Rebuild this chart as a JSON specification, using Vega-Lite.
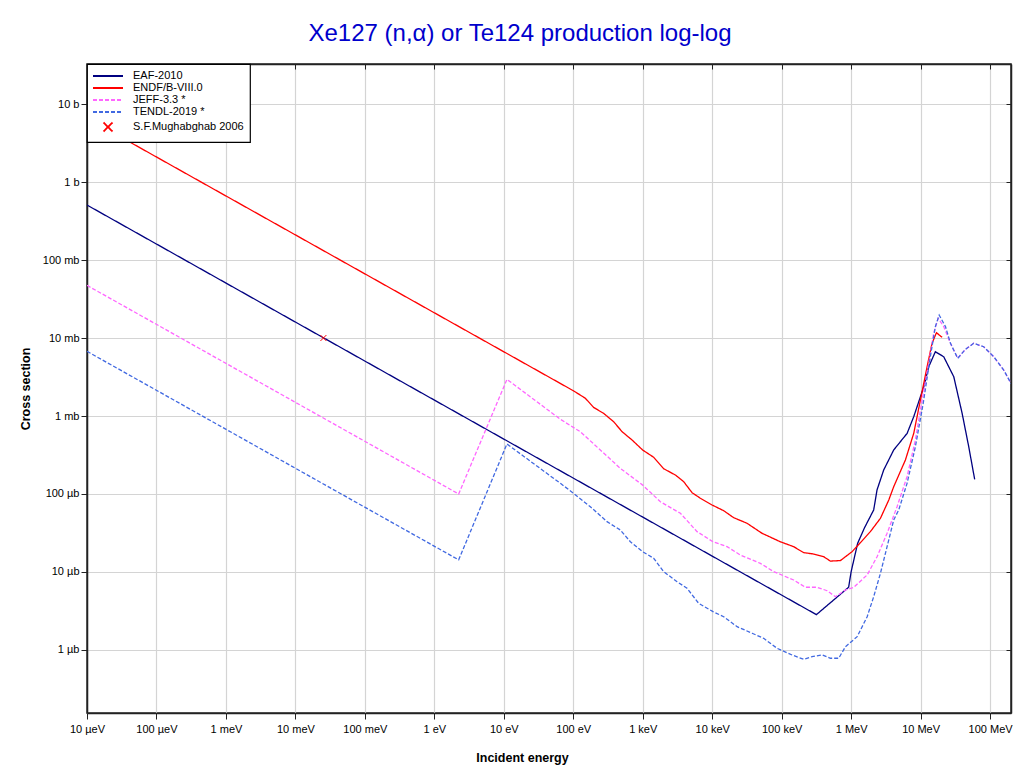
{
  "$schema": "https://vega.github.io/schema/vega-lite/v6.json",
  "width": 924,
  "height": 649,
  "autosize": {"type": "none"},
  "padding": {"left": 87, "top": 64, "right": 13, "bottom": 61},
  "background": "white",
  "title": {"text": "Xe127 (n,α) or Te124 production log-log", "color": "#0000cc", "fontSize": 24, "font": "Liberation Sans", "fontWeight": "normal", "anchor": "middle", "frame": "group", "dx": -29, "offset": 17},
  "config": {
    "font": "Liberation Sans",
    "view": {"stroke": "#222", "strokeWidth": 1.5},
    "axis": {"labelFontSize": 11, "labelColor": "#000", "labelFont": "Liberation Sans", "titleFont": "Liberation Sans", "titleFontSize": 12.5, "titleFontWeight": "bold", "titleColor": "#000", "domainColor": "#222", "domainWidth": 1.5, "tickColor": "#222", "tickSize": 6, "gridColor": "#d4d4d4", "gridWidth": 1.2},
    "legend": {"orient": "top-left", "offset": 0, "padding": 6, "strokeColor": "#000", "strokeWidth": 1.2, "fillColor": "white", "labelFontSize": 11, "labelFont": "Liberation Sans", "labelColor": "#000", "symbolSize": 100, "symbolOffset": 9, "symbolStrokeWidth": 1.8, "rowPadding": 1, "labelOffset": 19, "titleFontSize": 0}
  },
  "data": {"values": [
    {"s": "EAF-2010", "e": 1e-5, "v": 0.507},
    {"s": "EAF-2010", "e": 3.16e5, "v": 2.84e-6},
    {"s": "EAF-2010", "e": 9.2e5, "v": 6.37e-6},
    {"s": "EAF-2010", "e": 1.0e6, "v": 1.01e-5},
    {"s": "EAF-2010", "e": 1.24e6, "v": 2.33e-5},
    {"s": "EAF-2010", "e": 1.55e6, "v": 3.66e-5},
    {"s": "EAF-2010", "e": 2.11e6, "v": 6.24e-5},
    {"s": "EAF-2010", "e": 2.36e6, "v": 1.13e-4},
    {"s": "EAF-2010", "e": 2.94e6, "v": 2.03e-4},
    {"s": "EAF-2010", "e": 4.1e6, "v": 3.67e-4},
    {"s": "EAF-2010", "e": 6.4e6, "v": 6.0e-4},
    {"s": "EAF-2010", "e": 7.96e6, "v": 9.8e-4},
    {"s": "EAF-2010", "e": 1.11e7, "v": 2.37e-3},
    {"s": "EAF-2010", "e": 1.31e7, "v": 4.29e-3},
    {"s": "EAF-2010", "e": 1.63e7, "v": 6.67e-3},
    {"s": "EAF-2010", "e": 2.15e7, "v": 5.75e-3},
    {"s": "EAF-2010", "e": 3.0e7, "v": 3.19e-3},
    {"s": "EAF-2010", "e": 3.96e7, "v": 1.08e-3},
    {"s": "EAF-2010", "e": 4.93e7, "v": 4.03e-4},
    {"s": "EAF-2010", "e": 6.0e7, "v": 1.54e-4},

    {"s": "ENDF/B-VIII.0", "e": 1e-5, "v": 6.61},
    {"s": "ENDF/B-VIII.0", "e": 101, "v": 2.1e-3},
    {"s": "ENDF/B-VIII.0", "e": 149, "v": 1.69e-3},
    {"s": "ENDF/B-VIII.0", "e": 196, "v": 1.29e-3},
    {"s": "ENDF/B-VIII.0", "e": 274, "v": 1.08e-3},
    {"s": "ENDF/B-VIII.0", "e": 381, "v": 8.45e-4},
    {"s": "ENDF/B-VIII.0", "e": 504, "v": 6.29e-4},
    {"s": "ENDF/B-VIII.0", "e": 702, "v": 4.92e-4},
    {"s": "ENDF/B-VIII.0", "e": 998, "v": 3.66e-4},
    {"s": "ENDF/B-VIII.0", "e": 1436, "v": 2.96e-4},
    {"s": "ENDF/B-VIII.0", "e": 2000, "v": 2.11e-4},
    {"s": "ENDF/B-VIII.0", "e": 2951, "v": 1.75e-4},
    {"s": "ENDF/B-VIII.0", "e": 3882, "v": 1.44e-4},
    {"s": "ENDF/B-VIII.0", "e": 5129, "v": 1.04e-4},
    {"s": "ENDF/B-VIII.0", "e": 6761, "v": 8.81e-5},
    {"s": "ENDF/B-VIII.0", "e": 9954, "v": 7.23e-5},
    {"s": "ENDF/B-VIII.0", "e": 14620, "v": 6.11e-5},
    {"s": "ENDF/B-VIII.0", "e": 20370, "v": 4.97e-5},
    {"s": "ENDF/B-VIII.0", "e": 31770, "v": 4.21e-5},
    {"s": "ENDF/B-VIII.0", "e": 52240, "v": 3.13e-5},
    {"s": "ENDF/B-VIII.0", "e": 95750, "v": 2.44e-5},
    {"s": "ENDF/B-VIII.0", "e": 1.49e5, "v": 2.11e-5},
    {"s": "ENDF/B-VIII.0", "e": 2.07e5, "v": 1.77e-5},
    {"s": "ENDF/B-VIII.0", "e": 2.89e5, "v": 1.70e-5},
    {"s": "ENDF/B-VIII.0", "e": 4.03e5, "v": 1.57e-5},
    {"s": "ENDF/B-VIII.0", "e": 5.02e5, "v": 1.38e-5},
    {"s": "ENDF/B-VIII.0", "e": 7.0e5, "v": 1.40e-5},
    {"s": "ENDF/B-VIII.0", "e": 1.03e6, "v": 1.82e-5},
    {"s": "ENDF/B-VIII.0", "e": 1.36e6, "v": 2.38e-5},
    {"s": "ENDF/B-VIII.0", "e": 1.89e6, "v": 3.29e-5},
    {"s": "ENDF/B-VIII.0", "e": 2.64e6, "v": 4.88e-5},
    {"s": "ENDF/B-VIII.0", "e": 3.48e6, "v": 8.37e-5},
    {"s": "ENDF/B-VIII.0", "e": 4.10e6, "v": 1.24e-4},
    {"s": "ENDF/B-VIII.0", "e": 6.04e6, "v": 2.73e-4},
    {"s": "ENDF/B-VIII.0", "e": 7.96e6, "v": 6.0e-4},
    {"s": "ENDF/B-VIII.0", "e": 9.93e6, "v": 1.60e-3},
    {"s": "ENDF/B-VIII.0", "e": 1.24e7, "v": 4.29e-3},
    {"s": "ENDF/B-VIII.0", "e": 1.46e7, "v": 8.55e-3},
    {"s": "ENDF/B-VIII.0", "e": 1.69e7, "v": 1.17e-2},
    {"s": "ENDF/B-VIII.0", "e": 2.04e7, "v": 1.02e-2},

    {"s": "JEFF-3.3 *", "e": 1e-5, "v": 0.0473},
    {"s": "JEFF-3.3 *", "e": 2.24, "v": 1.0e-4},
    {"s": "JEFF-3.3 *", "e": 11.1, "v": 2.95e-3},
    {"s": "JEFF-3.3 *", "e": 65.2, "v": 9.08e-4},
    {"s": "JEFF-3.3 *", "e": 126, "v": 6.29e-4},
    {"s": "JEFF-3.3 *", "e": 245, "v": 3.67e-4},
    {"s": "JEFF-3.3 *", "e": 476, "v": 2.13e-4},
    {"s": "JEFF-3.3 *", "e": 998, "v": 1.30e-4},
    {"s": "JEFF-3.3 *", "e": 1795, "v": 7.96e-5},
    {"s": "JEFF-3.3 *", "e": 3483, "v": 5.66e-5},
    {"s": "JEFF-3.3 *", "e": 6053, "v": 3.29e-5},
    {"s": "JEFF-3.3 *", "e": 10280, "v": 2.44e-5},
    {"s": "JEFF-3.3 *", "e": 16370, "v": 2.11e-5},
    {"s": "JEFF-3.3 *", "e": 25420, "v": 1.65e-5},
    {"s": "JEFF-3.3 *", "e": 49320, "v": 1.29e-5},
    {"s": "JEFF-3.3 *", "e": 76740, "v": 1.01e-5},
    {"s": "JEFF-3.3 *", "e": 1.49e5, "v": 7.89e-6},
    {"s": "JEFF-3.3 *", "e": 2.19e5, "v": 6.37e-6},
    {"s": "JEFF-3.3 *", "e": 3.24e5, "v": 6.37e-6},
    {"s": "JEFF-3.3 *", "e": 4.51e5, "v": 5.75e-6},
    {"s": "JEFF-3.3 *", "e": 5.93e5, "v": 4.82e-6},
    {"s": "JEFF-3.3 *", "e": 8.26e5, "v": 5.87e-6},
    {"s": "JEFF-3.3 *", "e": 1.09e6, "v": 6.37e-6},
    {"s": "JEFF-3.3 *", "e": 1.70e6, "v": 9.16e-6},
    {"s": "JEFF-3.3 *", "e": 2.36e6, "v": 1.57e-5},
    {"s": "JEFF-3.3 *", "e": 3.29e6, "v": 3.13e-5},
    {"s": "JEFF-3.3 *", "e": 4.58e6, "v": 6.87e-5},
    {"s": "JEFF-3.3 *", "e": 6.38e6, "v": 1.67e-4},
    {"s": "JEFF-3.3 *", "e": 8.41e6, "v": 4.92e-4},
    {"s": "JEFF-3.3 *", "e": 1.05e7, "v": 1.60e-3},
    {"s": "JEFF-3.3 *", "e": 1.31e7, "v": 4.74e-3},
    {"s": "JEFF-3.3 *", "e": 1.54e7, "v": 1.15e-2},
    {"s": "JEFF-3.3 *", "e": 1.79e7, "v": 1.79e-2},
    {"s": "JEFF-3.3 *", "e": 2.15e7, "v": 1.40e-2},
    {"s": "JEFF-3.3 *", "e": 2.69e7, "v": 8.55e-3},
    {"s": "JEFF-3.3 *", "e": 3.42e7, "v": 5.49e-3},
    {"s": "JEFF-3.3 *", "e": 4.42e7, "v": 7.16e-3},
    {"s": "JEFF-3.3 *", "e": 5.81e7, "v": 8.55e-3},
    {"s": "JEFF-3.3 *", "e": 8.09e7, "v": 7.73e-3},
    {"s": "JEFF-3.3 *", "e": 1.13e8, "v": 5.75e-3},
    {"s": "JEFF-3.3 *", "e": 1.57e8, "v": 3.89e-3},
    {"s": "JEFF-3.3 *", "e": 2e8, "v": 2.62e-3},

    {"s": "TENDL-2019 *", "e": 1e-5, "v": 6.75e-3},
    {"s": "TENDL-2019 *", "e": 2.24, "v": 1.43e-5},
    {"s": "TENDL-2019 *", "e": 11.1, "v": 4.38e-4},
    {"s": "TENDL-2019 *", "e": 65.2, "v": 1.37e-4},
    {"s": "TENDL-2019 *", "e": 101, "v": 1.02e-4},
    {"s": "TENDL-2019 *", "e": 176, "v": 6.87e-5},
    {"s": "TENDL-2019 *", "e": 306, "v": 4.42e-5},
    {"s": "TENDL-2019 *", "e": 476, "v": 3.45e-5},
    {"s": "TENDL-2019 *", "e": 664, "v": 2.44e-5},
    {"s": "TENDL-2019 *", "e": 998, "v": 1.82e-5},
    {"s": "TENDL-2019 *", "e": 1436, "v": 1.50e-5},
    {"s": "TENDL-2019 *", "e": 2000, "v": 1.01e-5},
    {"s": "TENDL-2019 *", "e": 3119, "v": 7.51e-6},
    {"s": "TENDL-2019 *", "e": 4345, "v": 6.18e-6},
    {"s": "TENDL-2019 *", "e": 6383, "v": 3.97e-6},
    {"s": "TENDL-2019 *", "e": 10280, "v": 3.10e-6},
    {"s": "TENDL-2019 *", "e": 14620, "v": 2.67e-6},
    {"s": "TENDL-2019 *", "e": 22800, "v": 1.99e-6},
    {"s": "TENDL-2019 *", "e": 37500, "v": 1.64e-6},
    {"s": "TENDL-2019 *", "e": 55080, "v": 1.41e-6},
    {"s": "TENDL-2019 *", "e": 85900, "v": 1.05e-6},
    {"s": "TENDL-2019 *", "e": 1.41e5, "v": 8.63e-7},
    {"s": "TENDL-2019 *", "e": 2.07e5, "v": 7.60e-7},
    {"s": "TENDL-2019 *", "e": 2.74e5, "v": 8.21e-7},
    {"s": "TENDL-2019 *", "e": 3.82e5, "v": 8.63e-7},
    {"s": "TENDL-2019 *", "e": 5.02e5, "v": 7.83e-7},
    {"s": "TENDL-2019 *", "e": 6.62e5, "v": 7.83e-7},
    {"s": "TENDL-2019 *", "e": 8.26e5, "v": 1.10e-6},
    {"s": "TENDL-2019 *", "e": 1.22e6, "v": 1.48e-6},
    {"s": "TENDL-2019 *", "e": 1.70e6, "v": 2.67e-6},
    {"s": "TENDL-2019 *", "e": 2.11e6, "v": 4.82e-6},
    {"s": "TENDL-2019 *", "e": 2.64e6, "v": 9.62e-6},
    {"s": "TENDL-2019 *", "e": 3.29e6, "v": 2.11e-5},
    {"s": "TENDL-2019 *", "e": 4.10e6, "v": 4.65e-5},
    {"s": "TENDL-2019 *", "e": 4.84e6, "v": 6.24e-5},
    {"s": "TENDL-2019 *", "e": 6.38e6, "v": 1.37e-4},
    {"s": "TENDL-2019 *", "e": 8.41e6, "v": 4.04e-4},
    {"s": "TENDL-2019 *", "e": 1.09e7, "v": 1.46e-3},
    {"s": "TENDL-2019 *", "e": 1.38e7, "v": 5.75e-3},
    {"s": "TENDL-2019 *", "e": 1.63e7, "v": 1.40e-2},
    {"s": "TENDL-2019 *", "e": 1.85e7, "v": 1.97e-2},
    {"s": "TENDL-2019 *", "e": 2.28e7, "v": 1.40e-2},
    {"s": "TENDL-2019 *", "e": 2.69e7, "v": 8.55e-3},
    {"s": "TENDL-2019 *", "e": 3.42e7, "v": 5.49e-3},
    {"s": "TENDL-2019 *", "e": 4.42e7, "v": 7.16e-3},
    {"s": "TENDL-2019 *", "e": 5.81e7, "v": 8.55e-3},
    {"s": "TENDL-2019 *", "e": 8.09e7, "v": 7.73e-3},
    {"s": "TENDL-2019 *", "e": 1.13e8, "v": 5.75e-3},
    {"s": "TENDL-2019 *", "e": 1.57e8, "v": 3.89e-3},
    {"s": "TENDL-2019 *", "e": 2e8, "v": 2.62e-3},

    {"s": "S.F.Mughabghab 2006", "e": 0.0253, "v": 0.01}
  ]},
  "layer": [
    {
      "transform": [{"filter": "datum.s != 'S.F.Mughabghab 2006'"}],
      "mark": {"type": "line", "strokeWidth": 1.3, "clip": true},
      "encoding": {
        "x": {"field": "e", "type": "quantitative", "scale": {"type": "log", "domain": [1e-5, 2e8], "nice": false},
              "axis": {"orient": "bottom", "title": "Incident energy", "values": [1e-5, 1e-4, 1e-3, 1e-2, 1e-1, 1, 10, 100, 1e3, 1e4, 1e5, 1e6, 1e7, 1e8],
                       "labelExpr": "['10 µeV','100 µeV','1 meV','10 meV','100 meV','1 eV','10 eV','100 eV','1 keV','10 keV','100 keV','1 MeV','10 MeV','100 MeV'][round(log(datum.value)/LN10)+5]",
                       "labelPadding": 4, "titleX": 435, "titleY": 38, "titleBaseline": "top", "titleAlign": "center", "grid": true, "labelFlush": false, "labelOverlap": false}},
        "y": {"field": "v", "type": "quantitative", "scale": {"type": "log", "domain": [1.556e-7, 32.6], "nice": false},
              "axis": {"orient": "left", "title": "Cross section", "values": [1e-6, 1e-5, 1e-4, 1e-3, 1e-2, 1e-1, 1, 10],
                       "labelExpr": "['1 µb','10 µb','100 µb','1 mb','10 mb','100 mb','1 b','10 b'][round(log(datum.value)/LN10)+6]",
                       "labelPadding": 2, "titleX": -55, "grid": true, "labelOverlap": false}},
        "color": {"field": "s", "type": "nominal", "scale": {"domain": ["EAF-2010", "ENDF/B-VIII.0", "JEFF-3.3 *", "TENDL-2019 *", "S.F.Mughabghab 2006"], "range": ["#000080", "#ff0000", "#ff66ff", "#4169e1", "#ff0000"]}, "legend": {"title": null}},
        "strokeDash": {"field": "s", "type": "nominal", "scale": {"domain": ["EAF-2010", "ENDF/B-VIII.0", "JEFF-3.3 *", "TENDL-2019 *", "S.F.Mughabghab 2006"], "range": [[1, 0], [1, 0], [4, 2], [4, 2], [1, 0]]}, "legend": {"title": null}}
      }
    },
    {
      "transform": [{"filter": "datum.s == 'S.F.Mughabghab 2006'"}],
      "mark": {"type": "point", "filled": false, "size": 44, "strokeWidth": 1, "opacity": 1},
      "encoding": {
        "x": {"field": "e", "type": "quantitative", "axis": {"orient": "top", "labels": false, "grid": false, "title": null, "tickSize": -5, "values": [1e-5, 1e-4, 1e-3, 1e-2, 1e-1, 1, 10, 100, 1e3, 1e4, 1e5, 1e6, 1e7, 1e8]}},
        "y": {"field": "v", "type": "quantitative", "axis": {"orient": "right", "labels": false, "grid": false, "title": null, "tickSize": -5, "values": [1e-6, 1e-5, 1e-4, 1e-3, 1e-2, 1e-1, 1, 10]}},
        "color": {"field": "s", "type": "nominal", "legend": {"title": null}},
        "shape": {"field": "s", "type": "nominal", "scale": {"domain": ["EAF-2010", "ENDF/B-VIII.0", "JEFF-3.3 *", "TENDL-2019 *", "S.F.Mughabghab 2006"], "range": ["M-3,0L3,0", "M-3,0L3,0", "M-3,0L3,0", "M-3,0L3,0", "M-0.9,-0.9L0.9,0.9M-0.9,0.9L0.9,-0.9"]}, "legend": {"title": null}}
      }
    }
  ],
  "resolve": {"axis": {"x": "independent", "y": "independent"}}
}
